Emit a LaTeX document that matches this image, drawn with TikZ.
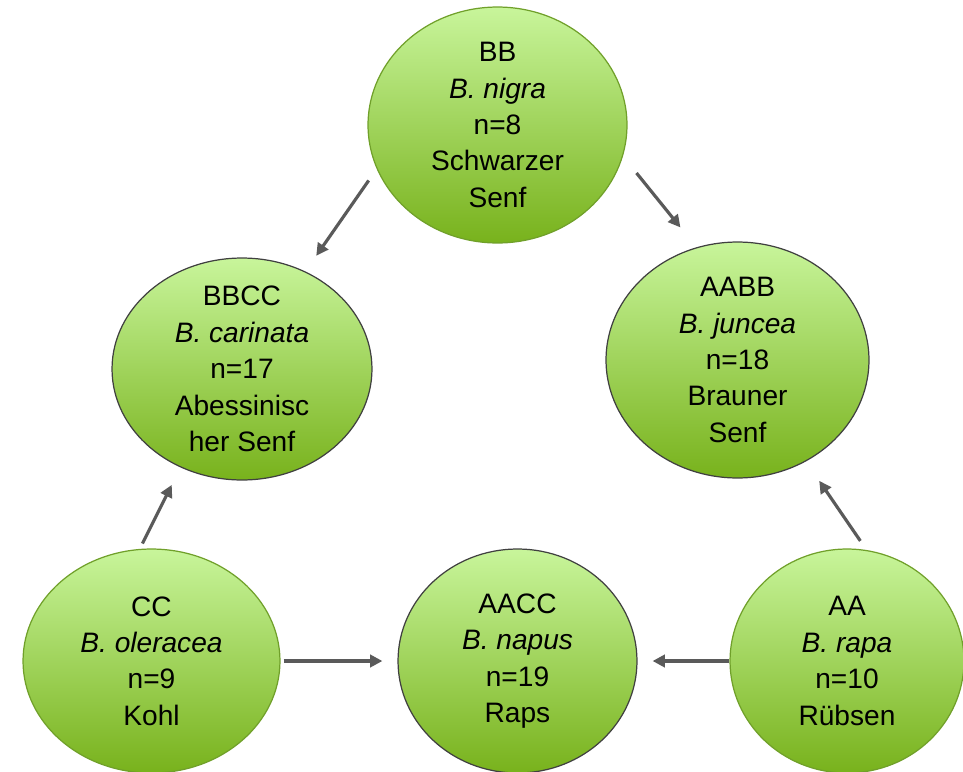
\documentclass[tikz,border=0pt]{standalone}
\usepackage{fontspec}
\setmainfont{Liberation Sans}
\usepackage{tikz}
\usetikzlibrary{shapes.geometric,arrows.meta}

\definecolor{leafTop}{RGB}{200,245,155}
\definecolor{leafBot}{RGB}{120,178,28}
\definecolor{leafRim}{RGB}{112,160,42}
\definecolor{hybRim}{RGB}{64,64,64}
\definecolor{crossGray}{RGB}{90,90,90}

\begin{document}
\begin{tikzpicture}[x=0.02cm,y=-0.02cm,
    genome/.style={ellipse,inner sep=0pt,top color=leafTop,bottom color=leafBot,line width=0.7pt},
    diploid/.style={genome,draw=leafRim},
    hybrid/.style={genome,draw=hybRim},
    gtext/.style={align=center,font=\fontsize{16}{20.7}\selectfont},
    cross/.style={draw=crossGray,line width=1.8pt,-{Triangle[length=7pt,width=7pt]}}]
  \useasboundingbox (0,0) rectangle (963,771);

  % diploid species
  \node[diploid,minimum width=5.18cm,minimum height=4.72cm] (bb) at (497.5,125) {};
  \node[diploid,minimum width=5.14cm,minimum height=4.48cm] (cc) at (151.5,661) {};
  \node[diploid,minimum width=4.68cm,minimum height=4.48cm] (aa) at (847,661) {};
  % amphidiploid species
  \node[hybrid,minimum width=5.2cm,minimum height=4.44cm] (bbcc) at (242,369) {};
  \node[hybrid,minimum width=5.26cm,minimum height=4.72cm] (aabb) at (737.5,360) {};
  \node[hybrid,minimum width=4.78cm,minimum height=4.48cm] (aacc) at (517.5,661) {};

  \node[gtext] (bbtext) at (bb) {BB\\\textit{B. nigra}\\n=8\\Schwarzer\\Senf};
  \node[gtext] (cctext) at (cc) {CC\\\textit{B. oleracea}\\n=9\\Kohl};
  \node[gtext] (aatext) at (aa) {AA\\\textit{B. rapa}\\n=10\\Rübsen};
  \node[gtext] (bbcctext) at (bbcc) {BBCC\\\textit{B. carinata}\\n=17\\Abessinisc\\her Senf};
  \node[gtext] (aabbtext) at (aabb) {AABB\\\textit{B. juncea}\\n=18\\Brauner\\Senf};
  \node[gtext] (aacctext) at (aacc) {AACC\\\textit{B. napus}\\n=19\\Raps};

  % crosses: from/to/start anchor/end anchor/gap at start/gap at end
  \foreach \from/\to/\sa/\ea/\gs/\ge in {bb/bbcc/200/57.5/0.28/0.38,
      bb/aabb/346.5/110.4/0.43/0.51,
      cc/bbcc/96.4/238.8/0.12/0.39,
      aa/aabb/80.2/304.9/0.22/0.47,
      cc/aacc/0/180/0.06/0.30,
      aa/aacc/180/0/0/0.30}
    \draw[cross,shorten <=\gs cm,shorten >=\ge cm] (\from.\sa) -- (\to.\ea);
\end{tikzpicture}
\end{document}
